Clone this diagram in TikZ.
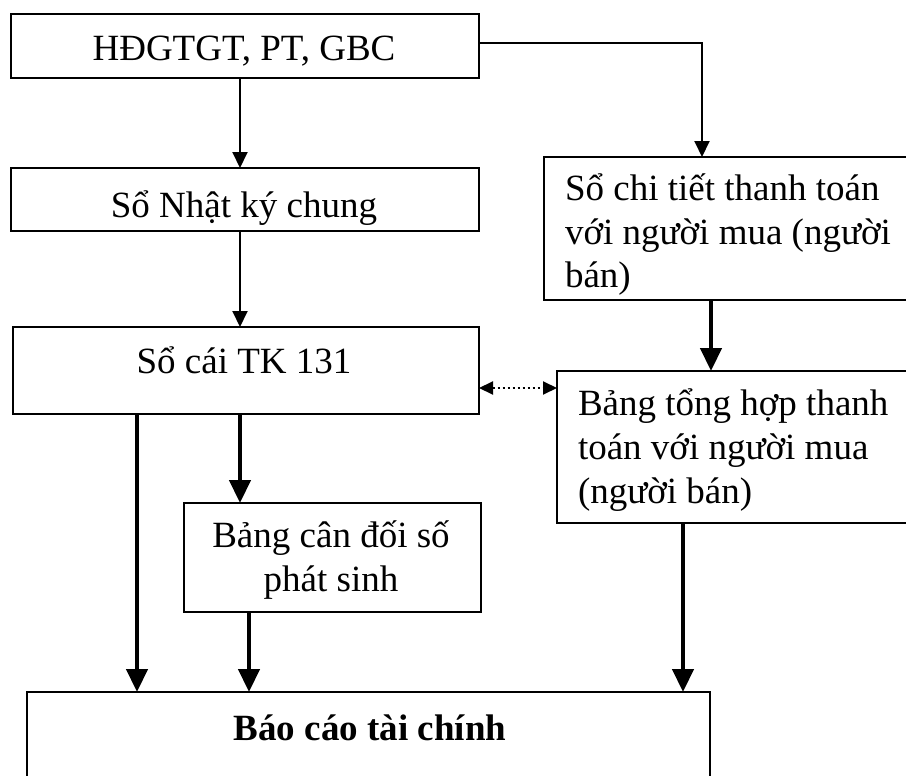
\documentclass[tikz,border=0pt]{standalone}
\usepackage{fontspec}
\setmainfont{Liberation Serif}
\usetikzlibrary{arrows.meta}
% stacked lines with a fixed baseline distance; the block's baseline is its first line
\newcommand\blockleft[1]{\vtop{\lineskiplimit=-100pt\halign{##\hfil\cr#1\crcr}}}
\newcommand\blockcenter[1]{\vtop{\lineskiplimit=-100pt\halign{\hfil##\hfil\cr#1\crcr}}}
\begin{document}
\begin{tikzpicture}[x=1pt,y=-1pt,
  box/.style={draw, line width=2.2pt, inner sep=0pt, outer sep=0pt, anchor=north west},
  boxtext/.style={inner sep=0pt, outer sep=0pt, anchor=base, font=\fontsize{37}{44}\selectfont},
  thin arrow/.style={line width=2pt, -{Triangle[length=16pt,width=15pt]}},
  thick arrow/.style={line width=4.5pt, -{Triangle[length=23pt,width=21pt]}},
  link/.style={line width=2pt, dash pattern=on 2.5pt off 2.5pt,
    {Triangle[length=14pt,width=13pt]}-{Triangle[length=14pt,width=13pt]}}
]
\useasboundingbox (0,0) rectangle (906,776);
\clip (0,0) rectangle (906,776);

% boxes
\node[box, minimum width=468pt, minimum height=64pt]  (src)  at (11,14)   {};
\node[box, minimum width=468pt, minimum height=63pt]  (jour) at (11,168)  {};
\node[box, minimum width=466pt, minimum height=87pt]  (ledg) at (13,327)  {};
\node[box, minimum width=420pt, minimum height=143pt] (det)  at (544,157) {};
\node[box, minimum width=410pt, minimum height=152pt] (sum)  at (557,371) {};
\node[box, minimum width=297pt, minimum height=109pt] (bal)  at (184,503) {};
\node[box, minimum width=683pt, minimum height=140pt] (rep)  at (27,692)  {};

% texts
\node[boxtext] (srcT)  at (244,61)  {HĐGTGT, PT, GBC};
\node[boxtext] (jourT) at (244,217) {Sổ Nhật ký chung};
\node[boxtext] (ledgT) at (244,373) {Sổ cái TK 131};
\node[boxtext, anchor=base west] (detT) at (565,200)
  {\blockleft{Sổ chi tiết thanh toán\cr với người mua (người\cr bán)}};
\node[boxtext, anchor=base west] (sumT) at (578,415)
  {\blockleft{Bảng tổng hợp thanh\cr toán với người mua\cr (người bán)}};
\node[boxtext] (balT) at (331,547)
  {\blockcenter{Bảng cân đối số\cr phát sinh}};
\node[boxtext, font=\fontsize{37}{44}\selectfont\bfseries] (repT) at (370,740) {Báo cáo tài chính};

% columns and rows of the connectors
\coordinate (colA)  at (240,0);
\coordinate (colD)  at (702,0);
\coordinate (colE)  at (711,0);
\coordinate (colG1) at (137,0);
\coordinate (colG2) at (249,0);
\coordinate (colG3) at (683,0);
\coordinate (rowA)  at (0,43);
\coordinate (rowL)  at (0,388);

% connectors
\draw[thin arrow] (src.south -| colA) -- (jour.north -| colA);
\draw[thin arrow] (jour.south -| colA) -- (ledg.north -| colA);
\draw[thin arrow] (src.east |- rowA) -| (det.north -| colD);
\draw[thick arrow] (det.south -| colE) -- (sum.north -| colE);
\draw[link] (ledg.east |- rowL) -- (sum.west |- rowL);
\draw[thick arrow] (ledg.south -| colA) -- (bal.north -| colA);
\draw[thick arrow] (ledg.south -| colG1) -- (rep.north -| colG1);
\draw[thick arrow] (bal.south -| colG2) -- (rep.north -| colG2);
\draw[thick arrow] (sum.south -| colG3) -- (rep.north -| colG3);
\end{tikzpicture}
\end{document}
